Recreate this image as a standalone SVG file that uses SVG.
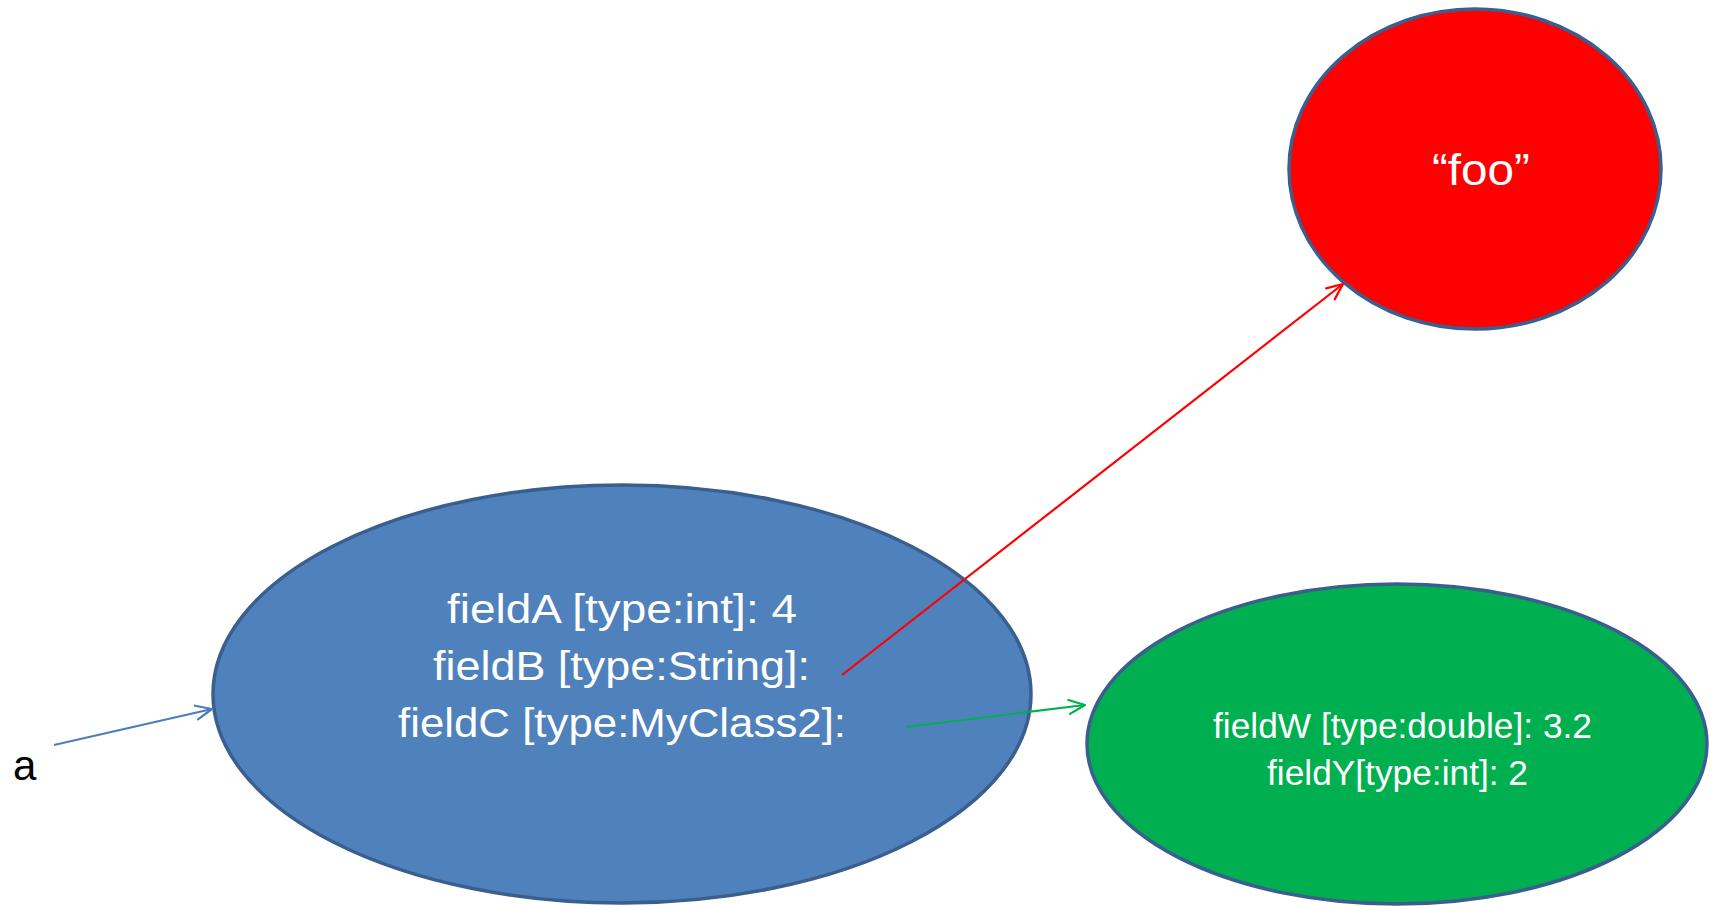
<svg xmlns="http://www.w3.org/2000/svg" width="1714" height="906" viewBox="0 0 1714 906">
  <style>
    .node { stroke: #3A5F8E; stroke-width: 3.5; }
    .lbl { font-family: "Liberation Sans", Arial, sans-serif; fill: #FFFFFF; }
    .conn { fill: none; stroke-width: 2.2; }
    .head { fill: none; stroke-width: 2.2; stroke-linecap: round; stroke-linejoin: round; }
  </style>
  <defs>
    <marker id="arrBlue" markerUnits="userSpaceOnUse" markerWidth="24" markerHeight="24" viewBox="-20 -12 24 24" refX="0" refY="0" orient="auto" overflow="visible">
      <path class="head" d="M-16,-7 L0,0 L-16,7" stroke="#4A7EBB"/>
    </marker>
    <marker id="arrRed" markerUnits="userSpaceOnUse" markerWidth="24" markerHeight="24" viewBox="-20 -12 24 24" refX="0" refY="0" orient="auto" overflow="visible">
      <path class="head" d="M-16,-7 L0,0 L-16,7" stroke="#FF0000"/>
    </marker>
    <marker id="arrGreen" markerUnits="userSpaceOnUse" markerWidth="24" markerHeight="24" viewBox="-20 -12 24 24" refX="0" refY="0" orient="auto" overflow="visible">
      <path class="head" d="M-16,-7 L0,0 L-16,7" stroke="#00B050"/>
    </marker>
  </defs>
  <rect x="0" y="0" width="1714" height="906" fill="#FFFFFF"/>

  <g id="node-main">
    <ellipse class="node" cx="622" cy="694" rx="409" ry="209" fill="#4F81BD"/>
    <text class="lbl" x="447" y="623" font-size="40" textLength="350" lengthAdjust="spacingAndGlyphs">fieldA [type:int]: 4</text>
    <text class="lbl" x="433" y="680" font-size="40" textLength="377" lengthAdjust="spacingAndGlyphs">fieldB [type:String]:</text>
    <text class="lbl" x="398" y="737" font-size="40" textLength="448" lengthAdjust="spacingAndGlyphs">fieldC [type:MyClass2]:</text>
  </g>

  <g id="node-foo">
    <ellipse class="node" cx="1475" cy="169" rx="186" ry="160" fill="#FF0000"/>
    <text class="lbl" x="1432" y="185" font-size="44" textLength="98" lengthAdjust="spacingAndGlyphs">“foo”</text>
  </g>

  <g id="node-class2">
    <ellipse class="node" cx="1397" cy="744" rx="310" ry="160" fill="#00B050"/>
    <text class="lbl" x="1213" y="738" font-size="35" textLength="379" lengthAdjust="spacingAndGlyphs">fieldW [type:double]: 3.2</text>
    <text class="lbl" x="1267" y="785" font-size="35" textLength="261" lengthAdjust="spacingAndGlyphs">fieldY[type:int]: 2</text>
  </g>

  <g id="label-a">
    <text x="13" y="780" font-size="42" font-family="Liberation Sans, Arial, sans-serif" fill="#000000">a</text>
  </g>

  <g id="connectors">
    <line class="conn" x1="54" y1="745" x2="212" y2="709" stroke="#4A7EBB" marker-end="url(#arrBlue)"/>
    <line class="conn" x1="842" y1="675" x2="1343" y2="284" stroke="#FF0000" marker-end="url(#arrRed)"/>
    <line class="conn" x1="906" y1="727" x2="1085" y2="705" stroke="#00B050" marker-end="url(#arrGreen)"/>
  </g>
</svg>
